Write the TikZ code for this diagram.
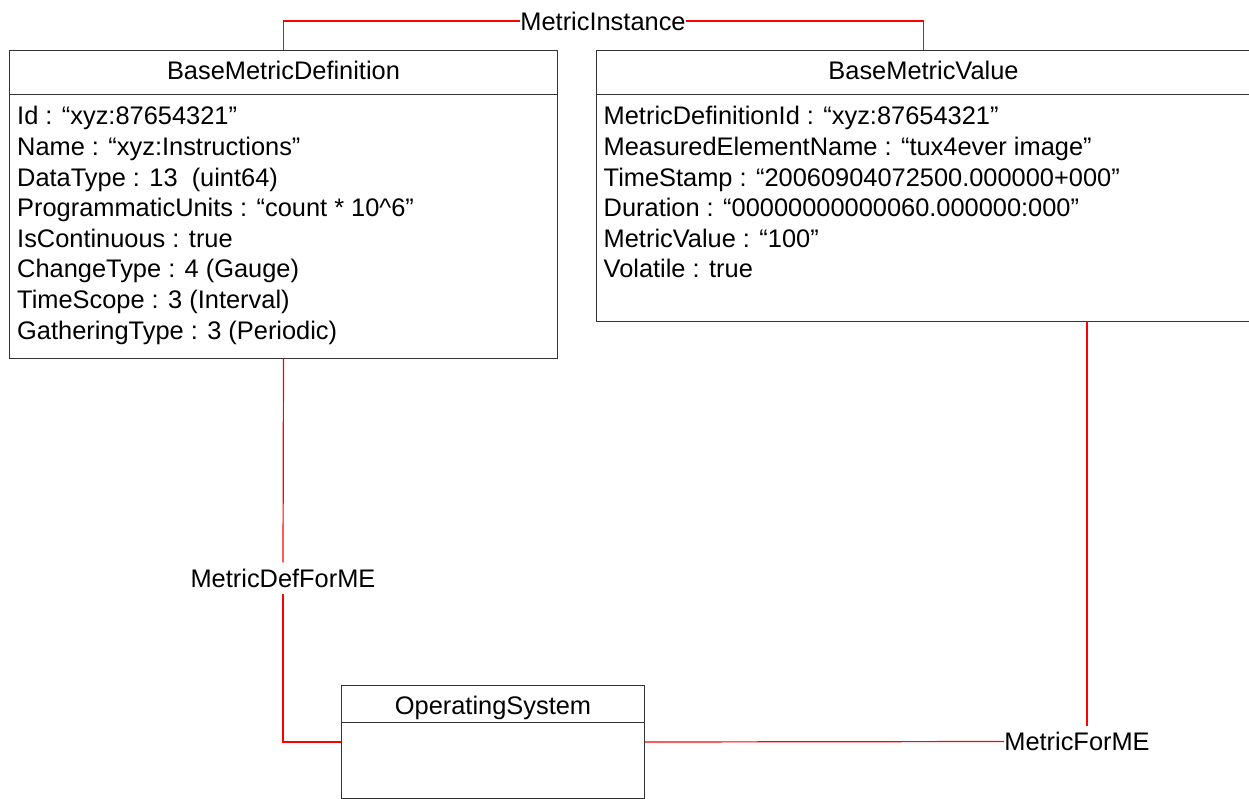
\documentclass[tikz,border=0pt]{standalone}
\usepackage{fontspec}
\setmainfont{Liberation Sans}
\usepackage{tikz}
\usetikzlibrary{positioning}
\tikzset{
  umlclass/.style={draw=black!80, line width=1pt, rectangle, anchor=north west, inner sep=0pt},
  umlline/.style={draw=black!80, line width=1pt},
  umlname/.style={font=\fontsize{25.4}{30}\selectfont, anchor=base, inner sep=0pt},
  umlattr/.style={font=\fontsize{25.4}{30.6}\selectfont, align=left, anchor=base west, inner sep=0pt},
  assoc/.style={color=red, line width=1.2pt},
  assoclabel/.style={font=\fontsize{25.4}{30}\selectfont, inner xsep=0pt, inner ysep=6pt}
}

\begin{document}
\begin{tikzpicture}[x=1pt, y=-1pt]
  \useasboundingbox (0,0) rectangle (1249,799);

  \node[umlclass, minimum width=548pt, minimum height=308pt] (def) at (9,50) {};
  \node[umlclass, minimum width=654pt, minimum height=271pt] (val) at (596,50) {};
  \node[umlclass, minimum width=303pt, minimum height=113pt] (os) at (341,685) {};

  \draw[umlline] ([yshift=-45pt]def.north west) -- ([yshift=-45pt]def.north east);
  \draw[umlline] ([yshift=-45pt]val.north west) -- ([yshift=-45pt]val.north east);
  \draw[umlline] ([yshift=-37pt]os.north west) -- ([yshift=-37pt]os.north east);

  \node[umlname] (defname) at ([yshift=-30pt]def.north) {BaseMetricDefinition};
  \node[umlname] (valname) at ([yshift=-30pt]val.north) {BaseMetricValue};
  \node[umlname] (osname) at ([yshift=-29pt]os.north) {OperatingSystem};

  % base anchor sits on the last line
  \node[umlattr] (defattr) at ([xshift=8pt, yshift=-289pt]def.north west) {%
    Id : “xyz:87654321”\\
    Name : “xyz:Instructions”\\
    DataType : 13\ \ (uint64)\\
    ProgrammaticUnits : “count * 10\textasciicircum6”\\
    IsContinuous : true\\
    ChangeType : 4 (Gauge)\\
    TimeScope : 3 (Interval)\\
    GatheringType : 3 (Periodic)};
  \node[umlattr] (valattr) at ([xshift=7.5pt, yshift=-228pt]val.north west) {%
    MetricDefinitionId : “xyz:87654321”\\
    MeasuredElementName : “tux4ever image”\\
    TimeStamp : “20060904072500.000000+000”\\
    Duration : “00000000000060.000000:000”\\
    MetricValue : “100”\\
    Volatile : true};

  \node[assoclabel] (inst) at (603,21) {MetricInstance};
  \node[assoclabel] (defme) at (283,578) {MetricDefForME};
  \node[assoclabel] (forme) at (1077,741.5) {MetricForME};
  \coordinate (valdrop) at (1087,321);

  \draw[assoc] (def.north) |- (inst.west);
  \draw[assoc] (inst.east) -| (val.north);
  \draw[assoc] (def.south) -- (defme.north);
  \draw[assoc] (defme.south) |- (os.west);
  \draw[assoc] (os.east) -- (forme.west);
  \draw[assoc] (valdrop) -- (valdrop |- forme.north);

\end{tikzpicture}
\end{document}
